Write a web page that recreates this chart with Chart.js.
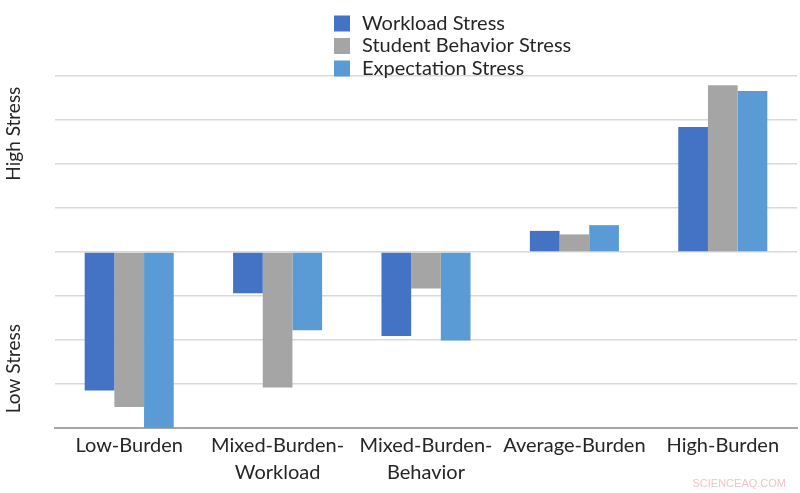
<!DOCTYPE html>
<html lang="en">
<head>
    <meta charset="UTF-8">
    <title>Teacher Stress Profiles</title>
    <script src="https://cdn.jsdelivr.net/npm/chart.js"></script>
    <style>
        html, body { margin: 0; padding: 0; background: #fff; }
        .chart-box { position: relative; width: 800px; height: 493px; }
    </style>
</head>
<body>
    <div class="chart-box">
        <canvas id="stressChart"></canvas>
    </div>
    <script>
        // Veriler
        const categories = [
            'Low-Burden',
            ['Mixed-Burden-', 'Workload'],
            ['Mixed-Burden-', 'Behavior'],
            'Average-Burden',
            'High-Burden'
        ];
        const workloadStress = [-3.15, -0.94, -1.91, 0.48, 2.84];
        const behaviorStress = [-3.52, -3.08, -0.83, 0.40, 3.79];
        const expectationStress = [-4.0, -1.78, -2.01, 0.61, 3.66];
        const seriesNames = ['Workload Stress', 'Student Behavior Stress', 'Expectation Stress'];
        const axisTitles = ['High Stress', 'Low Stress'];
        const axisTitleValues = [2.69, -2.65];
        const watermark = 'SCIENCEAQ.COM';

        const colors = ['#4472C4', '#A5A5A5', '#5B9BD5'];
        const fontFamily = 'Lato, "Open Sans", sans-serif';

        // Dikey legend + eksen başlıkları
        const decorPlugin = {
            id: 'decor',
            afterDraw(chart) {
                const ctx = chart.ctx;
                const y = chart.scales.y;
                ctx.save();

                // legend
                ctx.font = '20px ' + fontFamily;
                ctx.textBaseline = 'middle';
                ctx.textAlign = 'left';
                chart.data.datasets.forEach((ds, i) => {
                    const rowY = 23.5 + i * 22.5;
                    ctx.fillStyle = ds.backgroundColor;
                    ctx.fillRect(334, rowY - 8, 16, 16);
                    ctx.fillStyle = '#262626';
                    ctx.fillText(ds.label, 362, rowY);
                });

                // sol eksen başlıkları
                ctx.font = '19px ' + fontFamily;
                ctx.textAlign = 'center';
                axisTitles.forEach((t, i) => {
                    ctx.save();
                    ctx.translate(14, y.getPixelForValue(axisTitleValues[i]));
                    ctx.rotate(-Math.PI / 2);
                    ctx.fillStyle = '#262626';
                    ctx.fillText(t, 0, 0);
                    ctx.restore();
                });

                // watermark
                ctx.font = '11px "Liberation Sans Narrow", "Liberation Sans", sans-serif';
                ctx.fillStyle = '#f2c4c8';
                ctx.textAlign = 'right';
                ctx.fillText(watermark, 786, 484);
                ctx.restore();
            }
        };

        const ctx = document.getElementById('stressChart').getContext('2d');
        new Chart(ctx, {
            type: 'bar',
            data: {
                labels: categories,
                datasets: [
                    { label: seriesNames[0], data: workloadStress, backgroundColor: colors[0] },
                    { label: seriesNames[1], data: behaviorStress, backgroundColor: colors[1] },
                    { label: seriesNames[2], data: expectationStress, backgroundColor: colors[2] }
                ]
            },
            options: {
                responsive: true,
                maintainAspectRatio: false,
                animation: false,
                categoryPercentage: 0.6,
                barPercentage: 1.0,
                layout: { padding: { top: 76, right: 3, left: 0, bottom: 0 } },
                plugins: {
                    legend: { display: false },
                    tooltip: { enabled: false }
                },
                scales: {
                    x: {
                        grid: { display: false, drawTicks: false },
                        border: { display: true, color: '#a6a6a6', width: 2 },
                        ticks: {
                            color: '#262626',
                            padding: 4,
                            maxRotation: 0,
                            autoSkip: false,
                            font: { family: fontFamily, size: 20, lineHeight: 1.35 }
                        },
                        afterFit(scale) { scale.height = 65; }
                    },
                    y: {
                        min: -4,
                        max: 4,
                        ticks: { display: false, stepSize: 1 },
                        grid: { color: '#d9d9d9', lineWidth: 1.5, drawTicks: false },
                        border: { display: false },
                        afterFit(scale) { scale.width = 55; }
                    }
                }
            },
            plugins: [decorPlugin]
        });
    </script>
</body>
</html>
